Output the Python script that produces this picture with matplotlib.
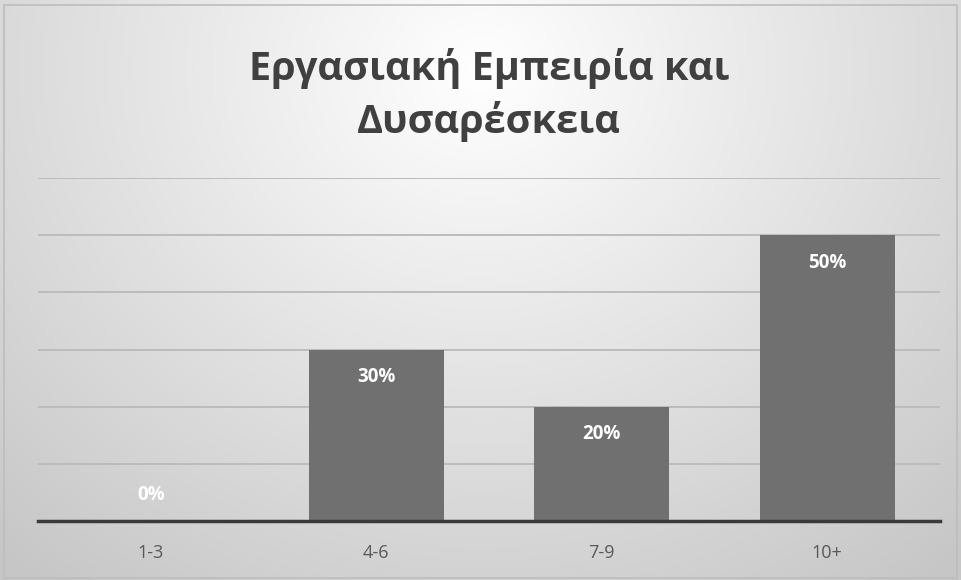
import numpy as np
import matplotlib
matplotlib.use("Agg")
import matplotlib.pyplot as plt

categories = ["1-3", "4-6", "7-9", "10+"]
values = [0, 30, 20, 50]
value_labels = ["0%", "30%", "20%", "50%"]
title = "Εργασιακή Εμπειρία και\nΔυσαρέσκεια"

plt.rcParams['font.family'] = ['Open Sans', 'DejaVu Sans']

W, H = 961, 580
fig = plt.figure(figsize=(W / 100, H / 100), dpi=100)

# radial gradient background
bg = fig.add_axes([0, 0, 1, 1], zorder=0)
yy, xx = np.mgrid[0:H, 0:W]
cx, cy = W * 0.5, H * 0.12
r = np.sqrt(((xx - cx) / (W * 0.75)) ** 2 + ((yy - cy) / (H * 1.1)) ** 2)
r = np.clip(r, 0, 1)
shade = 1.0 - 0.22 * r
img = np.dstack([shade, shade, shade])
bg.imshow(img, aspect='auto', extent=[0, 1, 0, 1], origin='upper')
bg.set_xlim(0, 1); bg.set_ylim(0, 1)
bg.axis('off')
bg.plot([0.004, 0.996, 0.996, 0.004, 0.004], [0.004, 0.004, 0.992, 0.992, 0.004],
        color='#bdbdbd', lw=1.2, transform=bg.transAxes)

ax = fig.add_axes([38 / W, 1 - 521 / H, (940 - 38) / W, (521 - 178) / H], zorder=1)
ax.patch.set_alpha(0)
x = np.arange(len(categories))
ax.set_xlim(-0.5, len(categories) - 0.5)
ax.set_ylim(0, 60)
ax.set_yticks(np.arange(0, 61, 10))
ax.set_axisbelow(True)
ax.yaxis.grid(True, color='#bcbcbc', lw=1.4)
bars = ax.bar(x, values, width=0.6, color='#707070', zorder=2)
ax.tick_params(axis='y', left=False, labelleft=False)
ax.tick_params(axis='x', bottom=False, labelsize=13, labelcolor='#595959', pad=13)
ax.set_xticks(x)
ax.set_xticklabels(categories)
for s in ['top', 'right', 'left']:
    ax.spines[s].set_visible(False)
ax.spines['bottom'].set_color('#3a3a3a')
ax.spines['bottom'].set_linewidth(2.5)
ax.spines['bottom'].set_zorder(3)

for xi, v, lab in zip(x, values, value_labels):
    off = -20 if v > 0 else 19
    ax.annotate(lab, (xi, v), xytext=(0, off), textcoords='offset points',
                ha='center', va='center', color='white', fontsize=13.5,
                fontweight='bold', zorder=4)

fig.text(489 / W, 1 - 95 / H, title, ha='center', va='center', fontsize=28.5,
         fontweight='bold', color='#404040', linespacing=1.4)

fig.savefig("out.png", dpi=100)
